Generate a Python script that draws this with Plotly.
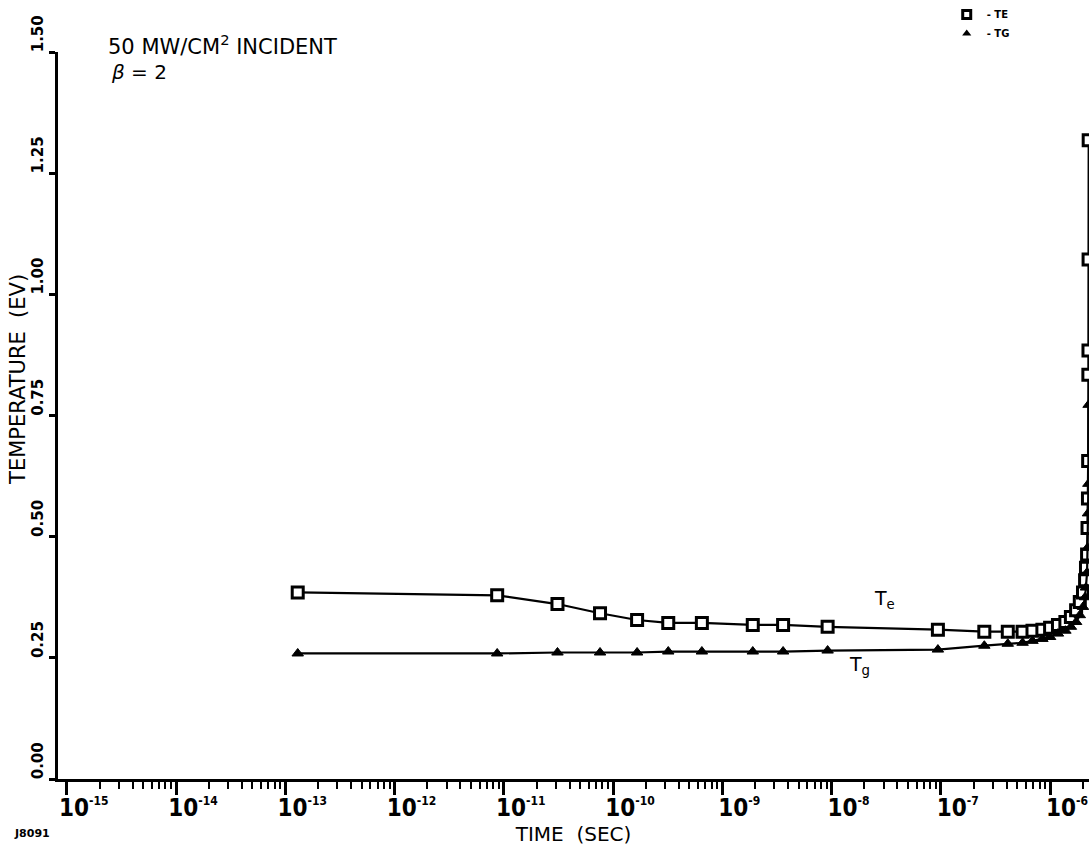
import plotly.graph_objects as go

# ---- data ----
te_time = [1.3e-13, 8.7e-12, 3.1e-11, 7.6e-11, 1.66e-10, 3.2e-10, 6.5e-10, 1.9e-9, 3.6e-9, 9.2e-9,
           9.4e-8, 2.5e-7, 4.1e-7, 5.6e-7, 6.9e-7, 8.5e-7, 1.0e-6, 1.18e-6, 1.38e-6, 1.55e-6,
           1.73e-6, 1.87e-6, 2.0e-6, 2.09e-6, 2.13e-6, 2.18e-6, 2.2e-6, 2.22e-6, 2.23e-6, 2.24e-6,
           2.245e-6, 2.25e-6, 2.255e-6]
te_vals = [0.385, 0.379, 0.361, 0.342, 0.328, 0.322, 0.322, 0.318, 0.318, 0.314,
           0.308, 0.304, 0.304, 0.304, 0.306, 0.308, 0.312, 0.318, 0.324, 0.334,
           0.348, 0.365, 0.385, 0.41, 0.436, 0.463, 0.518, 0.579, 0.656, 0.834,
           0.884, 1.072, 1.318]

tg_time = [1.3e-13, 8.7e-12, 3.1e-11, 7.6e-11, 1.66e-10, 3.2e-10, 6.5e-10, 1.9e-9, 3.6e-9, 9.2e-9,
           9.4e-8, 2.5e-7, 4.1e-7, 5.6e-7, 6.9e-7, 8.5e-7, 1.0e-6, 1.18e-6, 1.38e-6, 1.55e-6,
           1.73e-6, 1.87e-6, 2.0e-6, 2.09e-6, 2.13e-6, 2.18e-6, 2.2e-6, 2.22e-6, 2.24e-6, 2.25e-6]
tg_vals = [0.259, 0.259, 0.261, 0.261, 0.261, 0.263, 0.263, 0.263, 0.263, 0.265,
           0.267, 0.275, 0.279, 0.281, 0.285, 0.289, 0.293, 0.300, 0.306, 0.314,
           0.324, 0.338, 0.355, 0.375, 0.395, 0.426, 0.477, 0.548, 0.609, 0.772]

y_ticks = [0.0, 0.25, 0.5, 0.75, 1.0, 1.25, 1.5]
y_ticktext = ["0.00", "0.25", "0.50", "0.75", "1.00", "1.25", "1.50"]
x_ticks = [1e-15, 1e-14, 1e-13, 1e-12, 1e-11, 1e-10, 1e-9, 1e-8, 1e-7, 1e-6]
x_exponents = ["-15", "-14", "-13", "-12", "-11", "-10", "-9", "-8", "-7", "-6"]
x_range_log = [-15.08, -5.644]

FONT = "DejaVu Sans"
x_ticktext = ["<b>10</b><sup><span style='font-size:12px'><b>%s</b></span></sup>" % e for e in x_exponents]
minor_vals = [d * t for t in x_ticks for d in range(2, 10)]

fig = go.Figure()
fig.add_trace(go.Scatter(
    x=te_time, y=te_vals, mode="lines+markers", showlegend=False,
    line=dict(color="black", width=2.2),
    marker=dict(symbol="square", size=11, color="white", line=dict(color="black", width=3)),
))
fig.add_trace(go.Scatter(
    x=tg_time, y=tg_vals, mode="lines+markers", showlegend=False,
    line=dict(color="black", width=2.2),
    marker=dict(symbol="triangle-up", size=10, color="black", line=dict(color="black", width=1)),
))
# legend entries
fig.add_trace(go.Scatter(x=[None], y=[None], mode="markers", name="<b>- TE</b>",
                         marker=dict(symbol="square", size=8, color="white", line=dict(color="black", width=3))))
fig.add_trace(go.Scatter(x=[None], y=[None], mode="markers", name="<b>- TG</b>",
                         marker=dict(symbol="triangle-up", size=8, color="black")))

fig.update_layout(
    width=1089, height=848,
    margin=dict(l=58, r=0, t=43, b=69),
    paper_bgcolor="white", plot_bgcolor="white",
    font=dict(family=FONT, color="black"),
    legend=dict(x=0.862, y=1.072, xanchor="left", yanchor="top", bgcolor="rgba(0,0,0,0)",
                font=dict(size=10, family=FONT, color="black"), tracegroupgap=0,
                itemwidth=30),
    xaxis=dict(
        type="log", range=x_range_log, tickvals=x_ticks, ticktext=x_ticktext,
        showgrid=False, zeroline=False,
        showline=True, linecolor="black", linewidth=2.5,
        ticks="outside", ticklen=13, tickwidth=2.5, tickcolor="black",
        tickfont=dict(size=24, family="DejaVu Sans Condensed, DejaVu Sans", color="black"),
        ticklabelshift=17, ticklabelstandoff=-8, ticklabeloverflow="allow",
        minor=dict(tickvals=minor_vals, ticks="outside", ticklen=7, tickwidth=2,
                   tickcolor="black", showgrid=False),
        title=dict(text="TIME  (SEC)", font=dict(size=20, family=FONT), standoff=6),
    ),
    yaxis=dict(
        range=[0, 1.5], tickvals=y_ticks, ticktext=y_ticktext, tickangle=-90,
        showgrid=False, zeroline=False,
        showline=True, linecolor="black", linewidth=2.5,
        ticks="outside", ticklen=6, tickwidth=2.5, tickcolor="black",
        tickfont=dict(size=15, family=FONT, color="black", weight="bold"),
        ticklabelshift=-16,
    ),
)

fig.add_annotation(text="TEMPERATURE  (EV)", xref="paper", yref="paper", x=-0.039, y=0.55,
                   xanchor="center", yanchor="middle", textangle=-90, showarrow=False,
                   font=dict(size=21, family=FONT))
fig.add_annotation(text="50 MW/CM<sup>2</sup> INCIDENT", xref="paper", yref="paper",
                   x=0.047, y=1.01, xanchor="left", yanchor="middle", showarrow=False,
                   font=dict(size=21, family=FONT))
fig.add_annotation(text="<i>β</i> = 2", xref="paper", yref="paper",
                   x=0.049, y=0.972, xanchor="left", yanchor="middle", showarrow=False,
                   font=dict(size=20, family=FONT))
fig.add_annotation(text="T<sub>e</sub>", x=-7.52, y=0.37, xref="x", yref="y", showarrow=False,
                   font=dict(size=19, family=FONT))
fig.add_annotation(text="T<sub>g</sub>", x=-7.74, y=0.235, xref="x", yref="y", showarrow=False,
                   font=dict(size=19, family=FONT))
fig.add_annotation(text="<b>J8091</b>", xref="paper", yref="paper", x=-0.045, y=-0.075,
                   xanchor="left", yanchor="middle", showarrow=False, font=dict(size=11, family=FONT))

fig.write_html("out.html")
